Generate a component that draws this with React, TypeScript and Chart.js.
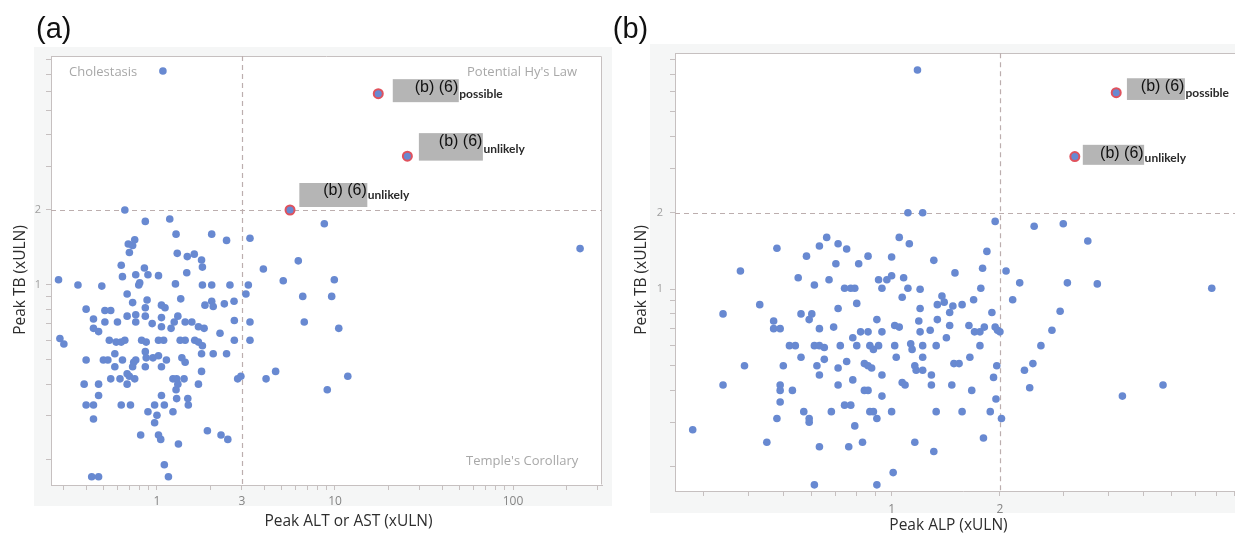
import React, { useEffect, useRef } from "react";
import { Chart, registerables } from "chart.js";

Chart.register(...registerables);

// ---------------- Panel (a): Peak ALT or AST vs Peak TB ----------------
const altA: number[] = [
  0.66, 0.86, 0.75, 0.69, 0.73, 0.70, 0.63, 0.85, 0.64, 0.76,
  0.28, 0.36, 0.49, 0.80, 0.79, 0.68, 0.73, 0.88, 0.40, 0.51,
  0.55, 0.86, 0.44, 0.68, 0.76, 0.86, 0.51, 0.60, 0.76, 0.44,
  0.47, 0.285, 0.30, 0.54, 0.59, 0.63, 0.66, 0.82, 0.87, 0.40,
  0.50, 0.53, 0.58, 0.58, 0.64, 0.76, 0.74, 0.73, 0.86, 0.87,
  0.86, 0.68, 0.70, 0.75, 0.68, 0.55, 0.62, 0.39, 0.47, 0.47,
  0.40, 0.44, 0.63, 0.71, 0.44, 0.81, 0.43, 0.47,
  1.18, 1.28, 2.03, 2.46, 1.30, 1.48, 1.62, 1.78, 1.80, 1.47,
  0.89, 1.02, 1.27, 1.80, 2.03, 2.57, 2.71, 2.39, 1.36, 1.86,
  2.03, 2.07, 1.06, 1.11, 0.94, 1.06, 1.06, 1.20, 1.25, 1.31,
  1.44, 1.57, 1.71, 1.84, 2.26, 2.72, 1.02, 1.09, 1.35, 1.44,
  1.63, 1.71, 1.80, 2.72, 0.95, 1.02, 1.13, 1.06, 1.38, 1.44,
  1.78, 2.07, 2.46, 1.78, 1.23, 1.29, 1.42, 1.31, 1.28, 1.71,
  2.84, 2.96, 1.06, 1.29, 1.49, 1.50, 0.97, 1.10, 0.89, 1.00,
  1.23, 0.97, 1.02, 1.05, 1.32, 1.92, 2.29, 2.50, 1.10, 1.16,
  8.71, 3.33, 238, 6.22, 3.96, 3.26, 3.16, 5.12, 9.91, 6.59,
  9.58, 3.33, 6.72, 10.5, 3.33, 4.10, 4.64, 11.8, 9.05, 1.08,
];
const tbA: number[] = [
  2.00, 1.80, 1.52, 1.46, 1.44, 1.35, 1.20, 1.17, 1.08, 1.10,
  1.05, 1.00, 0.99, 1.02, 1.00, 0.92, 0.85, 0.87, 0.80, 0.79,
  0.79, 0.81, 0.73, 0.75, 0.76, 0.75, 0.71, 0.71, 0.71, 0.67,
  0.65, 0.61, 0.58, 0.60, 0.59, 0.59, 0.60, 0.60, 0.59, 0.50,
  0.50, 0.50, 0.53, 0.47, 0.50, 0.50, 0.49, 0.47, 0.54, 0.51,
  0.47, 0.44, 0.43, 0.42, 0.40, 0.42, 0.42, 0.40, 0.40, 0.36,
  0.33, 0.33, 0.33, 0.33, 0.29, 0.25, 0.17, 0.17,
  1.84, 1.60, 1.60, 1.51, 1.34, 1.30, 1.33, 1.26, 1.18, 1.12,
  1.10, 1.09, 1.01, 1.00, 1.00, 1.00, 0.86, 0.84, 0.88, 0.83,
  0.86, 0.82, 0.83, 0.81, 0.70, 0.74, 0.68, 0.67, 0.71, 0.75,
  0.71, 0.71, 0.68, 0.67, 0.64, 0.72, 0.60, 0.60, 0.60, 0.60,
  0.60, 0.59, 0.57, 0.60, 0.51, 0.52, 0.50, 0.47, 0.51, 0.49,
  0.53, 0.53, 0.53, 0.45, 0.42, 0.42, 0.42, 0.40, 0.38, 0.40,
  0.42, 0.43, 0.36, 0.35, 0.35, 0.33, 0.33, 0.33, 0.31, 0.30,
  0.31, 0.28, 0.25, 0.24, 0.23, 0.26, 0.25, 0.24, 0.19, 0.17,
  1.76, 1.54, 1.40, 1.25, 1.16, 1.00, 0.92, 1.04, 1.05, 0.90,
  0.90, 0.71, 0.71, 0.67, 0.60, 0.42, 0.45, 0.43, 0.38, 7.23,
];
const hyAltA: number[] = [17.5, 25.5, 5.59];
const hyTbA: number[] = [5.86, 3.29, 2.0];
const hyTagA: string[] = ["possible", "unlikely", "unlikely"];

// ---------------- Panel (b): Peak ALP vs Peak TB ----------------
const alpB: number[] = [
  0.48, 0.38, 0.43, 0.34, 0.47, 0.47, 0.49, 0.52, 0.39, 0.50,
  0.34, 0.49, 0.49, 0.53, 0.49, 0.48, 0.28, 0.45,
  0.66, 0.63, 0.71, 0.75, 0.58, 0.70, 0.81, 0.86, 1.00, 1.05,
  0.55, 0.61, 0.67, 0.74, 0.77, 0.79, 0.92, 0.97, 1.00, 0.94,
  0.80, 0.71, 0.56, 0.60, 0.59, 0.91, 0.63, 0.69, 0.78, 0.82,
  0.86, 0.94, 1.02, 1.05, 0.54, 0.61, 0.63, 0.65, 0.72, 0.80,
  0.87, 0.89, 0.92, 1.02, 0.56, 0.62, 0.65, 0.71, 0.75, 0.84,
  0.86, 0.88, 1.03, 0.63, 0.71, 0.78, 0.94, 0.84, 0.86, 0.94,
  0.74, 0.77, 0.57, 0.59, 0.59, 0.68, 0.87, 0.89, 0.91, 1.00,
  0.79, 0.63, 0.76, 0.83, 1.01, 0.61, 0.91,
  1.11, 1.22, 1.94, 1.12, 1.84, 1.31, 1.50, 1.79, 1.08, 1.11,
  1.20, 1.07, 1.77, 1.20, 1.38, 1.40, 1.34, 1.48, 1.57, 1.45,
  1.69, 1.90, 1.19, 1.34, 1.20, 1.28, 1.45, 1.64, 1.70, 1.76,
  1.81, 1.94, 1.97, 2.00, 1.42, 1.13, 1.14, 1.22, 1.33, 1.76,
  1.22, 1.16, 1.17, 1.22, 1.49, 1.54, 1.65, 1.96, 1.29, 1.07,
  1.09, 1.29, 1.47, 1.67, 1.92, 1.95, 1.33, 1.57, 1.88, 2.02,
  1.16, 1.31, 1.80,
  2.49, 3.00, 3.51, 2.08, 2.27, 3.08, 3.73, 7.76, 2.17, 2.94,
  2.79, 2.60, 2.47, 2.34, 2.42, 5.68, 4.38, 1.18,
];
const tbB: number[] = [
  1.45, 1.18, 0.87, 0.80, 0.75, 0.70, 0.70, 0.60, 0.50, 0.50,
  0.42, 0.42, 0.40, 0.40, 0.36, 0.31, 0.28, 0.25,
  1.60, 1.48, 1.51, 1.44, 1.35, 1.26, 1.26, 1.35, 1.34, 1.60,
  1.11, 1.04, 1.09, 1.01, 1.01, 1.01, 1.09, 1.09, 1.13, 1.01,
  0.88, 0.84, 0.80, 0.80, 0.76, 0.76, 0.70, 0.71, 0.645, 0.68,
  0.68, 0.68, 0.72, 0.71, 0.60, 0.60, 0.60, 0.59, 0.60, 0.60,
  0.60, 0.58, 0.60, 0.60, 0.54, 0.50, 0.53, 0.49, 0.52, 0.51,
  0.50, 0.49, 0.54, 0.46, 0.42, 0.44, 0.46, 0.40, 0.40, 0.38,
  0.35, 0.35, 0.33, 0.31, 0.30, 0.33, 0.33, 0.33, 0.31, 0.33,
  0.29, 0.24, 0.24, 0.25, 0.19, 0.17, 0.17,
  2.00, 2.00, 1.85, 1.51, 1.41, 1.30, 1.16, 1.21, 1.11, 1.01,
  1.00, 0.93, 1.01, 0.84, 0.94, 0.89, 0.87, 0.86, 0.87, 0.81,
  0.91, 0.81, 0.75, 0.76, 0.68, 0.69, 0.72, 0.72, 0.68, 0.68,
  0.71, 0.71, 0.69, 0.68, 0.645, 0.61, 0.58, 0.60, 0.60, 0.60,
  0.54, 0.50, 0.48, 0.48, 0.51, 0.51, 0.54, 0.50, 0.46, 0.43,
  0.42, 0.42, 0.42, 0.40, 0.45, 0.37, 0.33, 0.33, 0.33, 0.31,
  0.25, 0.23, 0.26,
  1.77, 1.81, 1.55, 1.18, 1.06, 1.06, 1.05, 1.01, 0.91, 0.82,
  0.69, 0.60, 0.51, 0.48, 0.41, 0.42, 0.38, 7.29,
];
const hyAlpB: number[] = [4.21, 3.23];
const hyTbB: number[] = [5.94, 3.33];
const hyTagB: string[] = ["possible", "unlikely"];

// ---------------- Ticks ----------------
const xTicksA: number[] = [0.3, 0.4, 0.5, 0.6, 0.7, 0.8, 0.9, 1, 2, 3, 4, 5, 6, 7, 8, 9, 10, 20, 30, 40, 50, 60, 70, 80, 90, 100, 200, 300];
const xLabelsA: number[] = [1, 3, 10, 100];
const xTicksB: number[] = [0.3, 0.4, 0.5, 0.6, 0.7, 0.8, 0.9, 1, 2, 3, 4, 5, 6, 7, 8, 9];
const xLabelsB: number[] = [1, 2];
const yTicks: number[] = [0.2, 0.3, 0.4, 0.5, 0.6, 0.7, 0.8, 0.9, 1, 2, 3, 4, 5, 6, 7, 8];
const yLabels: number[] = [1, 2];

const BLUE = "#6889d1";
const RED = "#e0525d";
const AXIS = "#c6c0c0";
const DASH = "#bcaeae";
const BACKDROP = "#f5f6f6";
const TAG_MAIN = "(b) (6)";

type Box = { bx: number; by: number; bw: number; bh: number; tb: number; sb: number };
type Quad = { text: string; align: CanvasTextAlign; x: (a: any) => number; y: (a: any) => number };

const PANEL_A = {
  xs: altA, ys: tbA, hx: hyAltA, hy: hyTbA, tags: hyTagA,
  xMin: 0.254, xMax: 316, yMin: 0.1575, yMax: 8.3,
  xTicks: xTicksA, xLabels: xLabelsA,
  refX: 3, refY: 2,
  yAxisW: 51, xAxisH: 48, padTop: 56, padRight: 13, yTickPad: 5, xTickPad: 4,
  backdrop: { l: 34, t: 47, r: 612, b: 506 },
  boxes: [
    { bx: 14.5, by: -14.5, bw: 66, bh: 23, tb: -1.5, sb: 4 },
    { bx: 11.5, by: -23, bw: 64, bh: 27.5, tb: -10, sb: -3 },
    { bx: 9.3, by: -27, bw: 68, bh: 24, tb: -14.5, sb: -11 },
  ] as Box[],
  quads: [
    { text: "Cholestasis", align: "left", x: (a: any) => a.left + 18, y: (a: any) => a.top + 16.7 },
    { text: "Potential Hy's Law", align: "right", x: (a: any) => a.right - 25, y: (a: any) => a.top + 16.7 },
    { text: "Temple's Corollary", align: "right", x: (a: any) => a.right - 23.7, y: (a: any) => a.bottom - 23.3 },
  ] as Quad[],
  xTitle: { text: "Peak ALT or AST (xULN)", x: 348.5, y: 522 },
  yTitle: { text: "Peak TB (xULN)", x: 21, y: 280 },
  letter: { text: "(a)", x: 36, y: 37.5 },
};

const PANEL_B = {
  xs: alpB, ys: tbB, hx: hyAlpB, hy: hyTbB, tags: hyTagB,
  xMin: 0.25, xMax: 10, yMin: 0.1608, yMax: 8.485,
  xTicks: xTicksB, xLabels: xLabelsB,
  refX: 2, refY: 2,
  yAxisW: 70, xAxisH: 42, padTop: 53.3, padRight: 13.6, yTickPad: 7, xTickPad: 6,
  backdrop: { l: 45, t: 44, r: 660, b: 513 },
  boxes: [
    { bx: 10.7, by: -14.4, bw: 58, bh: 21.7, tb: -1.7, sb: 4 },
    { bx: 8, by: -11.7, bw: 61.3, bh: 20, tb: 1.3, sb: 5 },
  ] as Box[],
  quads: [] as Quad[],
  xTitle: { text: "Peak ALP (xULN)", x: 343.5, y: 526 },
  yTitle: { text: "Peak TB (xULN)", x: 37, y: 280 },
  letter: { text: "(b)", x: 7.8, y: 37.5 },
};

function makeDecor(p: typeof PANEL_A) {
  return {
    id: "decor",
    beforeDraw(chart: any) {
      const { ctx, chartArea: a } = chart;
      ctx.save();
      const d = p.backdrop;
      ctx.fillStyle = BACKDROP;
      ctx.fillRect(d.l, d.t, d.r - d.l, d.b - d.t);
      ctx.fillStyle = "#fff";
      ctx.fillRect(a.left, a.top, a.right - a.left, a.bottom - a.top);
      ctx.restore();
    },
    beforeDatasetsDraw(chart: any) {
      const { ctx, chartArea: a, scales } = chart;
      ctx.save();
      ctx.strokeStyle = AXIS;
      ctx.lineWidth = 1;
      const l = Math.round(a.left) + 0.5, t = Math.round(a.top) + 0.5;
      const r = Math.round(a.right) - 0.5, b = Math.round(a.bottom) - 0.5;
      ctx.beginPath();
      ctx.moveTo(l, t); ctx.lineTo(r, t); ctx.lineTo(r, b);
      ctx.stroke();
      ctx.setLineDash([5, 4]);
      ctx.strokeStyle = DASH;
      ctx.lineWidth = 1.2;
      const rx = Math.round(scales.x.getPixelForValue(p.refX)) + 0.5;
      const ry = Math.round(scales.y.getPixelForValue(p.refY)) + 0.5;
      ctx.beginPath(); ctx.moveTo(rx, a.top); ctx.lineTo(rx, a.bottom); ctx.stroke();
      ctx.beginPath(); ctx.moveTo(a.left, ry); ctx.lineTo(a.right, ry); ctx.stroke();
      ctx.restore();
    },
    afterDatasetsDraw(chart: any) {
      const { ctx, chartArea: a, scales } = chart;
      ctx.save();
      ctx.font = '13px "Open Sans", sans-serif';
      ctx.fillStyle = "#a8a8a8";
      ctx.textBaseline = "middle";
      for (const q of p.quads) {
        ctx.textAlign = q.align;
        ctx.fillText(q.text, q.x(a), q.y(a));
      }
      p.hx.forEach((hx, i) => {
        const px = scales.x.getPixelForValue(hx);
        const py = scales.y.getPixelForValue(p.hy[i]);
        const bx = p.boxes[i];
        ctx.fillStyle = "#b5b5b5";
        ctx.fillRect(px + bx.bx, py + bx.by, bx.bw, bx.bh);
        ctx.textBaseline = "alphabetic";
        ctx.textAlign = "right";
        ctx.fillStyle = "#111";
        ctx.font = '16px "Liberation Sans", Arial, sans-serif';
        ctx.fillText(TAG_MAIN, px + bx.bx + bx.bw - 0.5, py + bx.tb);
        ctx.textAlign = "left";
        ctx.fillStyle = "#2a2a2a";
        ctx.font = 'bold 12px Lato, "Open Sans", sans-serif';
        ctx.fillText(p.tags[i], px + bx.bx + bx.bw + 0.5, py + bx.sb);
      });
      ctx.restore();
    },
    afterDraw(chart: any) {
      const { ctx } = chart;
      ctx.save();
      ctx.fillStyle = "#2e2e2e";
      ctx.font = '15.5px "Open Sans", sans-serif';
      ctx.textAlign = "center";
      ctx.textBaseline = "middle";
      ctx.fillText(p.xTitle.text, p.xTitle.x, p.xTitle.y);
      ctx.save();
      ctx.translate(p.yTitle.x, p.yTitle.y);
      ctx.rotate(-Math.PI / 2);
      ctx.fillText(p.yTitle.text, 0, 0);
      ctx.restore();
      ctx.fillStyle = "#111";
      ctx.font = '29px "Liberation Sans", Arial, sans-serif';
      ctx.textAlign = "left";
      ctx.textBaseline = "alphabetic";
      ctx.fillText(p.letter.text, p.letter.x, p.letter.y);
      ctx.restore();
    },
  };
}

function buildChart(canvas: HTMLCanvasElement, p: typeof PANEL_A) {
  return new Chart(canvas, {
    type: "scatter",
    data: {
      datasets: [
        {
          data: p.hx.map((x, i) => ({ x, y: p.hy[i] })),
          pointRadius: 4.5,
          pointHoverRadius: 4.5,
          backgroundColor: BLUE,
          borderColor: RED,
          borderWidth: 2,
        },
        {
          data: p.xs.map((x, i) => ({ x, y: p.ys[i] })),
          pointRadius: 3.8,
          pointHoverRadius: 3.8,
          backgroundColor: BLUE,
          borderWidth: 0,
        },
      ],
    },
    options: {
      animation: false,
      responsive: false,
      events: [],
      layout: { padding: { left: 0, top: p.padTop, right: p.padRight, bottom: 0 } },
      plugins: { legend: { display: false }, tooltip: { enabled: false } },
      scales: {
        x: {
          type: "logarithmic",
          min: p.xMin,
          max: p.xMax,
          afterBuildTicks: (s: any) => { s.ticks = p.xTicks.map((v) => ({ value: v })); },
          afterFit: (s: any) => { s.height = p.xAxisH; },
          ticks: {
            autoSkip: false,
            maxRotation: 0,
            padding: p.xTickPad,
            color: "#858585",
            font: { family: '"Open Sans", sans-serif', size: 12 },
            callback: (v: any) => (p.xLabels.includes(Number(v)) ? String(v) : ""),
          },
          grid: { display: true, drawOnChartArea: false, drawTicks: true, tickLength: 5, color: AXIS },
          border: { display: true, color: AXIS },
        },
        y: {
          type: "logarithmic",
          min: p.yMin,
          max: p.yMax,
          afterBuildTicks: (s: any) => { s.ticks = yTicks.map((v) => ({ value: v })); },
          afterFit: (s: any) => { s.width = p.yAxisW; },
          ticks: {
            autoSkip: false,
            padding: p.yTickPad,
            color: "#a0a0a0",
            font: { family: '"Open Sans", sans-serif', size: 11 },
            callback: (v: any) => (yLabels.includes(Number(v)) ? String(v) : ""),
          },
          grid: { display: true, drawOnChartArea: false, drawTicks: true, tickLength: 5, color: AXIS },
          border: { display: true, color: AXIS },
        },
      },
    } as any,
    plugins: [makeDecor(p)],
  });
}

export default function App() {
  const refA = useRef<HTMLCanvasElement>(null);
  const refB = useRef<HTMLCanvasElement>(null);
  useEffect(() => {
    const a = buildChart(refA.current!, PANEL_A);
    const b = buildChart(refB.current!, PANEL_B as any);
    return () => {
      a.destroy();
      b.destroy();
    };
  }, []);
  return (
    <div style={{ position: "fixed", left: 0, top: 0, width: 1235, height: 533, overflow: "hidden", background: "#fff" }}>
      <canvas ref={refA} width={615} height={533} style={{ position: "absolute", left: 0, top: 0, width: 615, height: 533 }} />
      <canvas ref={refB} width={660} height={533} style={{ position: "absolute", left: 605, top: 0, width: 660, height: 533 }} />
    </div>
  );
}
